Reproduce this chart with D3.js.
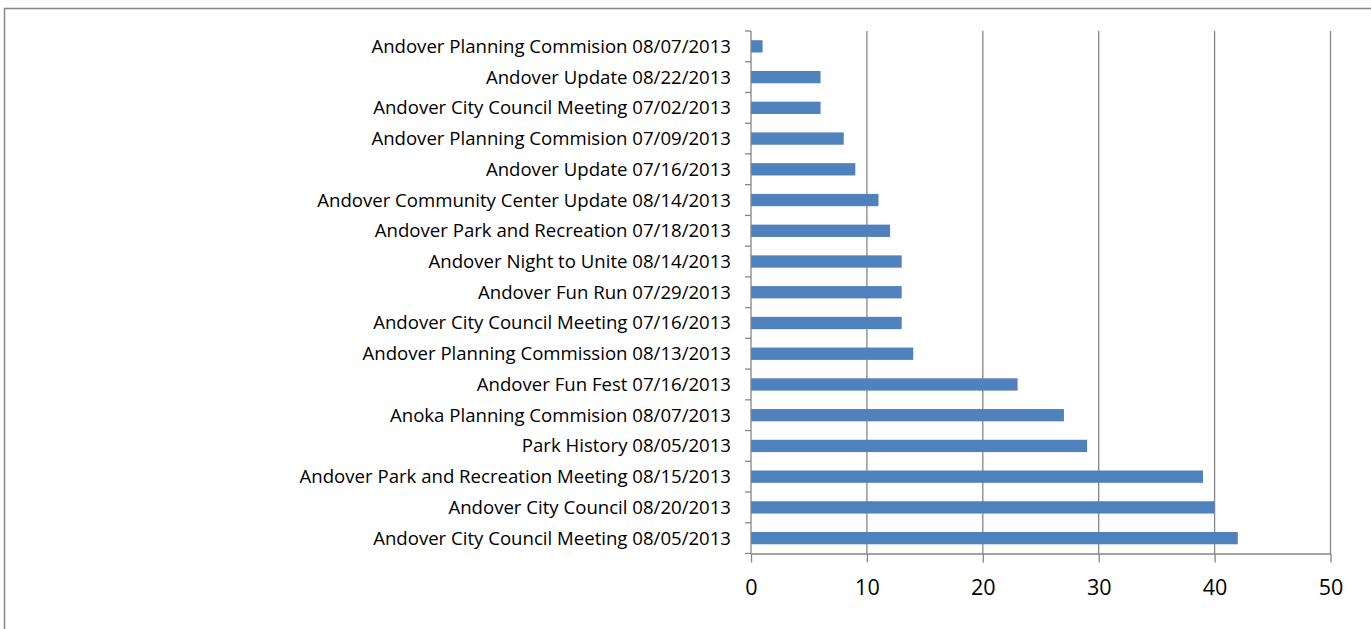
<!DOCTYPE html>
<html>
<head>
<meta charset="utf-8">
<script src="https://cdn.jsdelivr.net/npm/d3@7"></script>
<style>
  body { margin: 0; background: #fff; }
  svg { display: block; }
  .cat text { font-family: "Open Sans", "Noto Sans", sans-serif; font-size: 18.6px; fill: #000; }
  .val text { font-family: "Open Sans", "Noto Sans", sans-serif; font-size: 21.5px; fill: #000; }
</style>
</head>
<body>
<svg id="chart" width="1371" height="629"></svg>
<script>
// category labels, top to bottom
const categories = [
  "Andover Planning Commision 08/07/2013",
  "Andover Update 08/22/2013",
  "Andover City Council Meeting 07/02/2013",
  "Andover Planning Commision 07/09/2013",
  "Andover Update 07/16/2013",
  "Andover Community Center Update 08/14/2013",
  "Andover Park and Recreation 07/18/2013",
  "Andover Night to Unite 08/14/2013",
  "Andover Fun Run 07/29/2013",
  "Andover City Council Meeting 07/16/2013",
  "Andover Planning Commission 08/13/2013",
  "Andover Fun Fest 07/16/2013",
  "Anoka Planning Commision 08/07/2013",
  "Park History 08/05/2013",
  "Andover Park and Recreation Meeting 08/15/2013",
  "Andover City Council 08/20/2013",
  "Andover City Council Meeting 08/05/2013"
];
const values = [1, 6, 6, 8, 9, 11, 12, 13, 13, 13, 14, 23, 27, 29, 39, 40, 42];
const xTicks = [0, 10, 20, 30, 40, 50];

const svg = d3.select("#chart");
const plot = { left: 751, right: 1330.5, top: 31, bottom: 553.5 };
const gridColor = "#868686";

// outer chart border (runs off the right and bottom edge)
svg.append("rect")
  .attr("x", 4.5).attr("y", 8.5)
  .attr("width", 1400).attr("height", 700)
  .attr("fill", "none")
  .attr("stroke", gridColor)
  .attr("stroke-width", 1.5);

var x = d3.scaleLinear().domain([0, 50]).range([plot.left, plot.right]);
var y = d3.scaleBand().domain(categories).range([plot.top, plot.bottom]).paddingInner(0.6).paddingOuter(0.3);
var yBand = d3.scaleBand().domain(categories).range([plot.top, plot.bottom]);

// vertical gridlines
svg.append("g")
  .selectAll("line")
  .data(xTicks.slice(1))
  .enter()
  .append("line")
  .attr("x1", d => x(d)).attr("x2", d => x(d))
  .attr("y1", plot.top).attr("y2", plot.bottom)
  .attr("stroke", gridColor)
  .attr("stroke-width", 1.3);

// bars
svg.append("g")
  .selectAll("rect")
  .data(values)
  .enter()
  .append("rect")
  .attr("x", x(0))
  .attr("y", (d, i) => y(categories[i]))
  .attr("width", d => x(d) - x(0))
  .attr("height", y.bandwidth())
  .attr("fill", "#4F81BD");

// x axis
var xAxis = svg.append("g")
  .attr("class", "val")
  .attr("transform", "translate(0," + plot.bottom + ")")
  .call(d3.axisBottom(x).tickValues(xTicks).tickSize(9).tickPadding(17).tickSizeOuter(0));
xAxis.select(".domain").attr("stroke", gridColor).attr("stroke-width", 1.3);
xAxis.selectAll(".tick line").attr("stroke", gridColor).attr("stroke-width", 1.3);

// y axis: ticks at category boundaries
var yAxisG = svg.append("g")
  .attr("class", "cat");
yAxisG.append("line")
  .attr("x1", plot.left).attr("x2", plot.left)
  .attr("y1", plot.top).attr("y2", plot.bottom)
  .attr("stroke", gridColor).attr("stroke-width", 1.3);
var bounds = categories.map(c => yBand(c)).concat([plot.bottom]);
yAxisG.selectAll(".bt")
  .data(bounds)
  .enter()
  .append("line")
  .attr("class", "bt")
  .attr("x1", plot.left - 6).attr("x2", plot.left)
  .attr("y1", d => d).attr("y2", d => d)
  .attr("stroke", gridColor).attr("stroke-width", 1.3);
yAxisG.selectAll("text")
  .data(categories)
  .enter()
  .append("text")
  .attr("x", 731)
  .attr("y", d => yBand(d) + yBand.bandwidth() / 2)
  .attr("dy", "0.35em")
  .attr("text-anchor", "end")
  .text(d => d);
</script>
</body>
</html>
